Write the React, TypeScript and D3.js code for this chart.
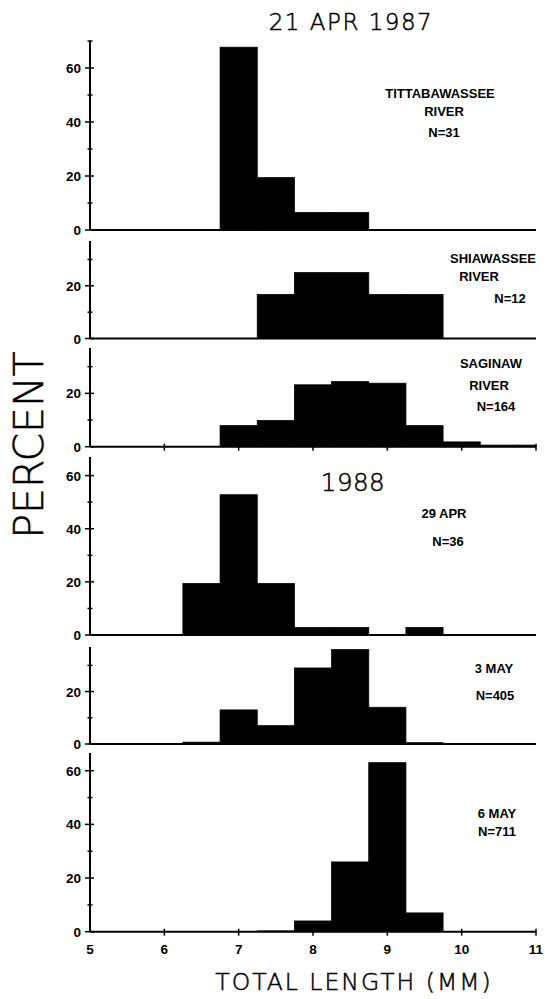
import React from "react";
import * as d3 from "d3";

// ---- data ----
const binCenters = [6.5, 7, 7.5, 8, 8.5, 9, 9.5, 10, 10.5, 11];
const tittabawassee = [0, 67.7, 19.4, 6.5, 6.5, 0, 0, 0, 0, 0];
const shiawassee = [0, 0, 16.7, 25, 25, 16.7, 16.7, 0, 0, 0];
const saginaw = [0, 7.9, 9.8, 23.2, 24.4, 23.8, 7.9, 1.8, 0.6, 0.6];
const apr29 = [19.4, 52.8, 19.4, 2.8, 2.8, 0, 2.8, 0, 0, 0];
const may3 = [0.7, 13, 7, 29, 36, 14, 0.5, 0, 0, 0];
const may6 = [0, 0, 0.3, 4, 26, 63, 7, 0, 0, 0];
const xTickValues = [5, 6, 7, 8, 9, 10, 11];
const yMaxima = [70, 37, 37, 67, 37, 66.6];
const panelLabels = [
  ["TITTABAWASSEE", "RIVER", "N=31"],
  ["SHIAWASSEE", "RIVER", "N=12"],
  ["SAGINAW", "RIVER", "N=164"],
  ["29 APR", "N=36"],
  ["3 MAY", "N=405"],
  ["6 MAY", "N=711"],
];
const title1987 = "21 APR 1987";
const title1988 = "1988";
const yTitle = "PERCENT";
const xTitle = "TOTAL LENGTH (MM)";

// ---- layout ----
const W = 545;
const H = 999;
const binHalf = 0.25;
const panelBase = [230, 338.5, 446.7, 635, 744, 931.7];
const panelTop = [41, 241, 348, 457, 647, 753];
const panelSeries = [tittabawassee, shiawassee, saginaw, apr29, may3, may6];
const showXTicks = [false, false, true, false, false, true];
// label positions: [x, baseline] for each line
const labelPos = [
  [[440, 98], [444, 116], [444, 137]],
  [[493, 263], [479, 281], [510, 303]],
  [[491, 368], [489, 390], [496, 411]],
  [[444, 518], [448, 546]],
  [[494, 673], [495, 700]],
  [[497, 818], [497, 836]],
];

const x = d3.scaleLinear().domain([5, 11]).range([90, 536]);
const smallFont = "'Liberation Sans', Arial, sans-serif";
const bigFont = "'DejaVu Sans', sans-serif";

function Panel({ i }: { i: number }) {
  const y = d3
    .scaleLinear()
    .domain([0, yMaxima[i]])
    .range([panelBase[i], panelTop[i]]);
  const values = panelSeries[i];
  const major = d3.range(0, yMaxima[i] + 0.01, 20);
  const minor = d3.range(10, yMaxima[i] + 0.01, 20);
  const x0 = x(5);
  return (
    <g>
      {values.map((v, k) => {
        if (v <= 0) return null;
        const a = Math.max(5, binCenters[k] - binHalf);
        const b = Math.min(11, binCenters[k] + binHalf);
        return (
          <rect
            key={k}
            x={x(a)}
            y={y(v)}
            width={x(b) - x(a)}
            height={y(0) - y(v)}
            fill="#000"
            stroke="#000"
            strokeWidth={0.8}
          />
        );
      })}
      <line x1={x0} x2={x(11)} y1={y(0)} y2={y(0)} stroke="#000" strokeWidth={2} />
      <line x1={x0} x2={x0} y1={y(0)} y2={panelTop[i]} stroke="#000" strokeWidth={2} />
      {major.map((t) => (
        <g key={"M" + t}>
          <line x1={x0 - 5} x2={x0 + 4} y1={y(t)} y2={y(t)} stroke="#000" strokeWidth={1.5} />
          <text
            x={x0 - 9}
            y={y(t) + 5}
            textAnchor="end"
            fontFamily={smallFont}
            fontWeight="bold"
            fontSize={13.5}
          >
            {t}
          </text>
        </g>
      ))}
      {minor.map((t) => (
        <line key={"m" + t} x1={x0 - 2.5} x2={x0 + 2.5} y1={y(t)} y2={y(t)} stroke="#000" strokeWidth={1.5} />
      ))}
      {showXTicks[i] &&
        xTickValues
          .filter((t) => t > 5)
          .map((t) => (
            <line key={"x" + t} x1={x(t)} x2={x(t)} y1={y(0) - 3} y2={y(0) + 4} stroke="#000" strokeWidth={1.5} />
          ))}
      {panelLabels[i].map((s, k) => (
        <text
          key={"l" + k}
          x={labelPos[i][k][0]}
          y={labelPos[i][k][1]}
          textAnchor="middle"
          fontFamily={smallFont}
          fontWeight="bold"
          fontSize={13}
        >
          {s}
        </text>
      ))}
    </g>
  );
}

export default function App() {
  const bigStyle = { stroke: "#000", strokeWidth: 0.5 };
  return (
    <svg
      width={W}
      height={H}
      viewBox={`0 0 ${W} ${H}`}
      style={{ position: "absolute", left: 0, top: 0, background: "#fff" }}
    >
      <rect width={W} height={H} fill="#fff" />
      {panelSeries.map((_, i) => (
        <Panel key={i} i={i} />
      ))}
      {xTickValues.map((t) => (
        <text
          key={t}
          x={x(t)}
          y={954}
          textAnchor="middle"
          fontFamily={smallFont}
          fontWeight="bold"
          fontSize={13.5}
        >
          {t}
        </text>
      ))}
      <text x={351} y={30} textAnchor="middle" fontFamily={bigFont} fontWeight={200} fontSize={23} letterSpacing={1.5} style={bigStyle}>
        {title1987}
      </text>
      <text x={353} y={491} textAnchor="middle" fontFamily={bigFont} fontWeight={200} fontSize={24.5} letterSpacing={0.5} style={bigStyle}>
        {title1988}
      </text>
      <text
        transform="translate(43,445) rotate(-90)"
        textAnchor="middle"
        fontFamily={bigFont}
        fontWeight={200}
        fontSize={41}
        style={bigStyle}
      >
        {yTitle}
      </text>
      <text x={354} y={990} textAnchor="middle" fontFamily={bigFont} fontWeight={200} fontSize={23.5} letterSpacing={2} style={bigStyle}>
        {xTitle}
      </text>
    </svg>
  );
}
